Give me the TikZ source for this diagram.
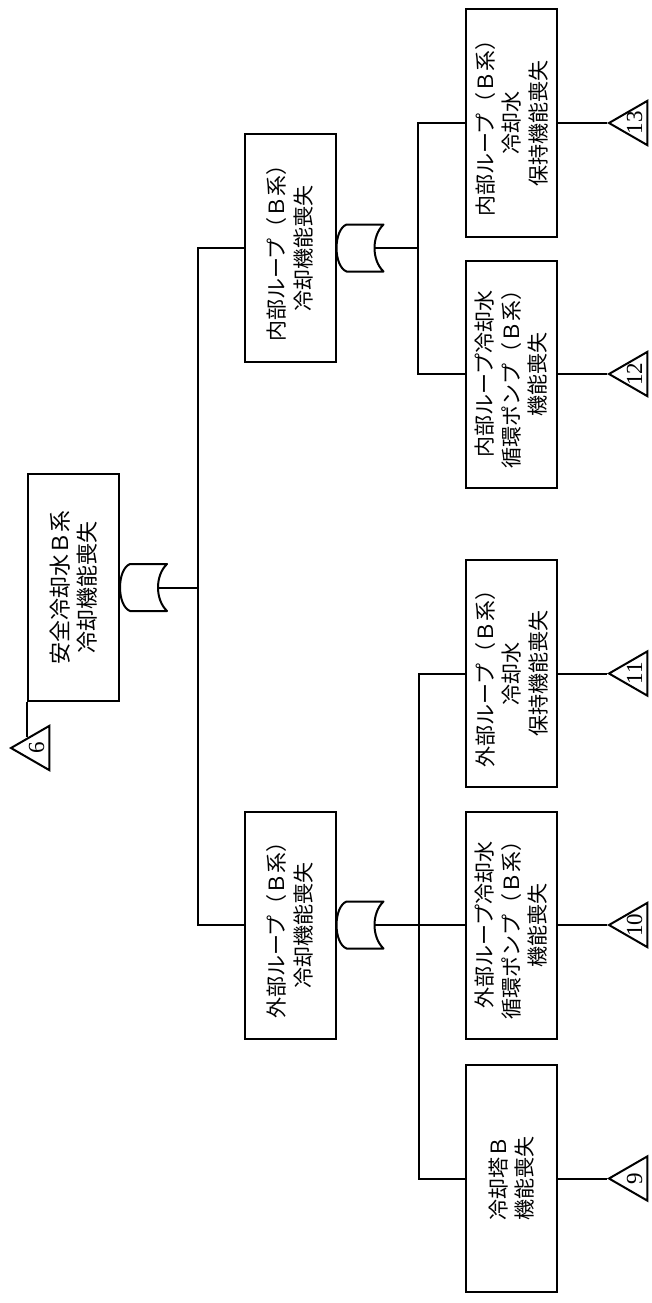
\documentclass[tikz,border=0pt]{standalone}
\usepackage{fontspec}
\setmainfont{Noto Sans CJK JP}
\newfontfamily\digitfont{Liberation Serif}
\usetikzlibrary{shapes.geometric,calc}
\tikzset{
  orgatepic/.pic={
    \draw[line join=round] (10,-23.5) -- (47,-23.5)
      .. controls (35,-12) and (35,12) .. (47,23.5) -- (10,23.5)
      .. controls (-3.3,18) and (-3.3,-18) .. (10,-23.5) -- cycle;
    \coordinate (-in) at (38,0);
  }
}
\begin{document}
\begin{tikzpicture}[x=1pt,y=-1pt,line width=2pt,
  evbox/.style={draw, rotate=90, minimum width=227pt, minimum height=91pt,
    inner sep=0pt, align=center, font=\fontsize{21}{26.5}\selectfont},
  xfer/.style={draw, regular polygon, regular polygon sides=3, minimum size=51pt,
    inner sep=-6pt, rotate=90, anchor=corner 1, font=\digitfont\fontsize{23}{23}\selectfont}]
\useasboundingbox (0,0) rectangle (651,1303);

% event boxes
\node[evbox, font=\fontsize{22}{27}\selectfont] (top) at (73.5,587.5) {安全冷却水Ｂ系\\冷却機能喪失};
\node[evbox] (n1) at (290,248) {内部ループ（Ｂ系）\\冷却機能喪失};
\node[evbox] (n2) at (290,925) {外部ループ（Ｂ系）\\冷却機能喪失};
\node[evbox] (b13) at (511.5,123) {内部ループ（Ｂ系）\\冷却水\\保持機能喪失};
\node[evbox] (b12) at (511.5,374) {内部ループ冷却水\\循環ポンプ（Ｂ系）\\機能喪失};
\node[evbox] (b11) at (511.5,673.5) {外部ループ（Ｂ系）\\冷却水\\保持機能喪失};
\node[evbox] (b10) at (511.5,925) {外部ループ冷却水\\循環ポンプ（Ｂ系）\\機能喪失};
\node[evbox] (b9) at (511.5,1178.5) {冷却塔Ｂ\\機能喪失};

% transfer triangles
\node[xfer] (t6) at (9,748) {6};
\node[xfer] (t13) at (607,123) {13};
\node[xfer] (t12) at (607,374) {12};
\node[xfer] (t11) at (607,673.5) {11};
\node[xfer] (t10) at (607,925) {10};
\node[xfer] (t9) at (607,1178.5) {9};

% OR gates
\pic (g0) at (top.south) {orgatepic};
\pic (g1) at (n1.south) {orgatepic};
\pic (g2) at (n2.south) {orgatepic};

% bus points
\coordinate (bus1) at (198,587.5);
\coordinate (bus2) at (418,248);
\coordinate (bus3) at (419,925);
\coordinate (t6e) at ($(t6.corner 1)!0.48!(t6.corner 3)$);

% connectors
\draw (g0-in) -- (bus1);
\draw (n1.north) -| (bus1) |- (n2.north);
\draw (g1-in) -- (bus2);
\draw (b13.north) -| (bus2) |- (b12.north);
\draw (g2-in) -- (bus3);
\draw (b11.north) -| (bus3) |- (b9.north);
\draw (bus3) -- (b10.north);

\draw (top.north west) -- (top.north west |- t6e);
\draw (b13.south) -- (t13.corner 1);
\draw (b12.south) -- (t12.corner 1);
\draw (b11.south) -- (t11.corner 1);
\draw (b10.south) -- (t10.corner 1);
\draw (b9.south) -- (t9.corner 1);
\end{tikzpicture}
\end{document}
